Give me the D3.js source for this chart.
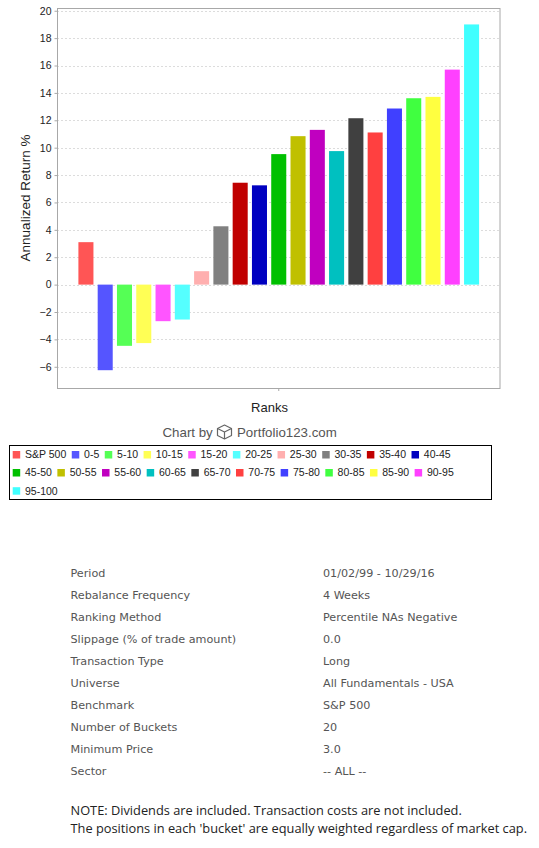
<!DOCTYPE html>
<html>
<head>
<meta charset="utf-8">
<script src="https://cdn.jsdelivr.net/npm/d3@7"></script>
<style>
  body { margin: 0; background: #fff; }
  svg { display: block; }
</style>
</head>
<body>
<svg id="page" width="539" height="848"></svg>
<script>
// bucket names, returns (%) and the colours of each bucket
var categories = ["S&P 500", "0-5", "5-10", "10-15", "15-20", "20-25", "25-30", "30-35", "35-40", "40-45",
  "45-50", "50-55", "55-60", "60-65", "65-70", "70-75", "75-80", "80-85", "85-90", "90-95", "95-100"];
var returns = [3.1, -6.25, -4.47, -4.27, -2.67, -2.55, 0.98, 4.26, 7.44, 7.25,
  9.53, 10.84, 11.3, 9.75, 12.15, 11.11, 12.86, 13.61, 13.71, 15.7, 19.0];
var colors = ["#ff5555", "#5555ff", "#55ff55", "#ffff55", "#ff55ff", "#55ffff", "#ffafaf", "#808080", "#c00000", "#0000c0",
  "#00c000", "#c0c000", "#c000c0", "#00c0c0", "#404040", "#ff4040", "#4040ff", "#40ff40", "#ffff40", "#ff40ff", "#40ffff"];
var yTicks = [-6, -4, -2, 0, 2, 4, 6, 8, 10, 12, 14, 16, 18, 20];

// simulation settings shown under the chart
var settingLabels = ["Period", "Rebalance Frequency", "Ranking Method", "Slippage (% of trade amount)",
  "Transaction Type", "Universe", "Benchmark", "Number of Buckets", "Minimum Price", "Sector"];
var settingValues = ["01/02/99 - 10/29/16", "4 Weeks", "Percentile NAs Negative", "0.0",
  "Long", "All Fundamentals - USA", "S&P 500", "20", "3.0", "-- ALL --"];
var notes = ["NOTE: Dividends are included. Transaction costs are not included.",
  "The positions in each 'bucket' are equally weighted regardless of market cap."];

var svg = d3.select("#page");
var chartFont = "'Liberation Sans', Arial, sans-serif";

var plot = { left: 57, top: 8, right: 500.5, bottom: 388 };

var x = d3.scaleBand()
  .domain(categories)
  .range([plot.left, plot.right])
  .paddingInner(0.22)
  .paddingOuter(1.11);

var y = d3.scaleLinear()
  .domain([-7.55, 20.2])
  .range([plot.bottom, plot.top]);

// dashed grid
svg.append("g")
  .attr("class", "grid")
  .selectAll("line")
  .data(yTicks)
  .enter()
  .append("line")
  .attr("x1", plot.left)
  .attr("x2", plot.right)
  .attr("y1", function (d) { return Math.round(y(d)) + 0.5; })
  .attr("y2", function (d) { return Math.round(y(d)) + 0.5; })
  .attr("stroke", "#dcdcdc")
  .attr("stroke-width", 1)
  .attr("stroke-dasharray", "2,2");

// bars
svg.append("g")
  .attr("class", "bars")
  .selectAll("rect")
  .data(returns)
  .enter()
  .append("rect")
  .attr("x", function (d, i) { return x(categories[i]); })
  .attr("width", x.bandwidth())
  .attr("y", function (d) { return y(Math.max(0, d)); })
  .attr("height", function (d) { return Math.abs(y(d) - y(0)); })
  .attr("fill", function (d, i) { return colors[i]; });

// plot outline
svg.append("rect")
  .attr("x", plot.left + 0.5)
  .attr("y", plot.top + 0.5)
  .attr("width", plot.right - plot.left - 1)
  .attr("height", plot.bottom - plot.top)
  .attr("fill", "none")
  .attr("stroke", "#a8a8a8");

// y axis
var yAxis = svg.append("g")
  .attr("class", "axis axis--y")
  .attr("transform", "translate(" + (plot.left + 0.5) + ",0)")
  .call(d3.axisLeft(y).tickValues(yTicks).tickSize(3).tickPadding(3));
yAxis.select(".domain").remove();
yAxis.selectAll(".tick line").attr("stroke", "#a8a8a8");
yAxis.selectAll(".tick text")
  .attr("fill", "#222")
  .style("font-family", chartFont)
  .style("font-size", "10.5px");

// single centre tick under the category axis
svg.append("line")
  .attr("x1", (plot.left + plot.right) / 2)
  .attr("x2", (plot.left + plot.right) / 2)
  .attr("y1", plot.bottom + 0.5)
  .attr("y2", plot.bottom + 3)
  .attr("stroke", "#a8a8a8");

// axis titles
svg.append("text")
  .attr("transform", "translate(30," + ((plot.top + plot.bottom) / 2) + ") rotate(-90)")
  .attr("text-anchor", "middle")
  .attr("fill", "#222")
  .style("font-family", chartFont)
  .style("font-size", "13.5px")
  .text("Annualized Return %");

svg.append("text")
  .attr("x", 269.5)
  .attr("y", 412)
  .attr("text-anchor", "middle")
  .attr("fill", "#222")
  .style("font-family", chartFont)
  .style("font-size", "13px")
  .text("Ranks");

// "Chart by Portfolio123.com" credit with the cube logo
var credit = svg.append("g").attr("class", "credit");
credit.append("text")
  .attr("x", 162.5)
  .attr("y", 437)
  .attr("fill", "#555")
  .style("font-family", chartFont)
  .style("font-size", "13.3px")
  .text("Chart by");
credit.append("text")
  .attr("x", 237)
  .attr("y", 437)
  .attr("fill", "#555")
  .style("font-family", chartFont)
  .style("font-size", "13.3px")
  .text("Portfolio123.com");
var cx = 224.5, cy = 432, r = 7;
var cube = credit.append("g")
  .attr("fill", "none")
  .attr("stroke", "#666")
  .attr("stroke-width", 1.2)
  .attr("stroke-linejoin", "round");
cube.append("path")
  .attr("d", "M" + cx + "," + (cy - r) +
    " L" + (cx + r) + "," + (cy - r / 2) +
    " L" + (cx + r) + "," + (cy + r / 2) +
    " L" + cx + "," + (cy + r) +
    " L" + (cx - r) + "," + (cy + r / 2) +
    " L" + (cx - r) + "," + (cy - r / 2) + " Z");
cube.append("path")
  .attr("d", "M" + (cx - r) + "," + (cy - r / 2) +
    " L" + cx + "," + cy +
    " L" + (cx + r) + "," + (cy - r / 2) +
    " M" + cx + "," + cy + " L" + cx + "," + (cy + r));

// legend
var legendBox = { x: 9.5, y: 445.5, w: 482, h: 54 };
svg.append("rect")
  .attr("x", legendBox.x)
  .attr("y", legendBox.y)
  .attr("width", legendBox.w)
  .attr("height", legendBox.h)
  .attr("fill", "#fff")
  .attr("stroke", "#000");

var legend = svg.append("g").attr("class", "legend");
var lx = 12.7, row = 0;
var rowY = [454.5, 472.5, 490.7];
categories.forEach(function (c, i) {
  var item = legend.append("g");
  var label = item.append("text")
    .attr("x", 12.3)
    .attr("y", 3.8)
    .attr("fill", "#222")
    .style("font-family", chartFont)
    .style("font-size", "10.5px")
    .text(c);
  var w = label.node().getComputedTextLength();
  if (lx + 12.3 + w > legendBox.x + legendBox.w - 3) {
    row += 1;
    lx = 12.7;
  }
  item.attr("transform", "translate(" + lx + "," + rowY[row] + ")");
  item.insert("rect", "text")
    .attr("x", 0)
    .attr("y", -3.5)
    .attr("width", 7.5)
    .attr("height", 7.5)
    .attr("fill", colors[i]);
  lx += 12.3 + w + 5.5;
});

// settings table
var table = svg.append("g").attr("class", "settings")
  .style("font-family", "'DejaVu Sans', Verdana, sans-serif")
  .style("font-size", "11.2px")
  .attr("fill", "#555");
settingLabels.forEach(function (label, i) {
  var ty = 577 + i * 22;
  table.append("text").attr("x", 70.5).attr("y", ty).text(label);
  table.append("text").attr("x", 323).attr("y", ty).text(settingValues[i]);
});

// notes
svg.append("g").attr("class", "notes")
  .selectAll("text")
  .data(notes)
  .enter()
  .append("text")
  .attr("x", 70.5)
  .attr("y", function (d, i) { return 814.5 + i * 18; })
  .attr("fill", "#222")
  .style("font-family", "'Open Sans', sans-serif")
  .style("font-size", "12.8px")
  .text(function (d) { return d; });
</script>
</body>
</html>
